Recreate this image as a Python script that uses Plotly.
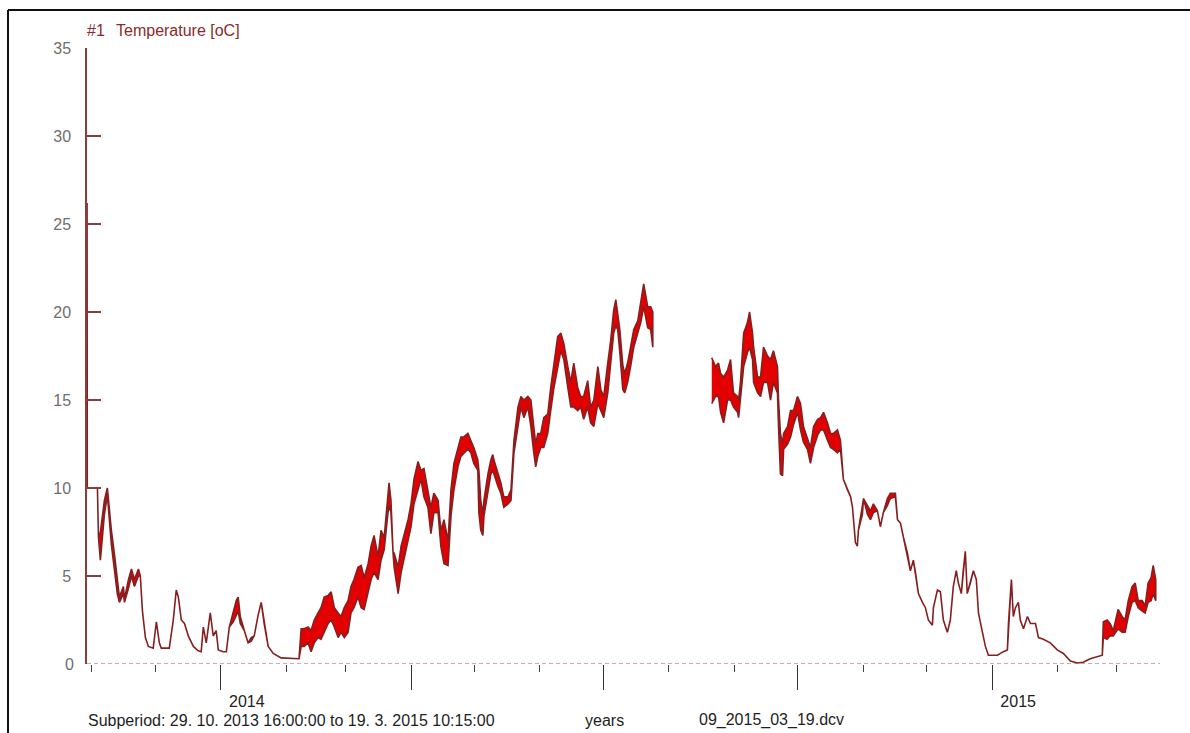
import pandas as pd
import plotly.graph_objects as go

# Logger #1 water temperature, daily low / high envelope.
# Day offsets are counted from 1 Jan 2014.
BASE_DATE = "2014-01-01"

day = [
    -63.3, -63.2, -58.4, -57.9, -57.0, -55.1, -53.7, -51.8, -50.4, -49.0,
    -48.0, -46.1, -45.6, -43.7, -42.3, -40.9, -39.0, -38.1, -37.1, -35.7,
    -34.3, -32.0, -30.5, -29.1, -28.2, -24.4, -22.5, -21.1, -20.1, -18.7,
    -17.2, -15.4, -13.0, -10.7, -9.3, -8.3, -6.9, -5.0, -3.6, -2.2,
    -1.2, 1.1, 2.6, 4.0, 5.9, 7.3, 8.2, 9.2, 11.1, 12.9,
    14.4, 15.8, 17.7, 19.1, 20.5, 22.4, 24.8, 27.1, 28.5, 37.0,
    38.0, 39.4, 41.3, 42.7, 44.2, 46.0, 47.4, 48.9, 50.8, 52.2,
    53.7, 55.5, 56.9, 58.4, 60.2, 61.6, 63.0, 64.9, 66.4, 67.8,
    69.7, 71.1, 72.5, 74.4, 75.8, 77.3, 79.1, 79.6, 80.5, 81.5,
    82.0, 83.9, 85.3, 86.7, 88.6, 90.0, 91.4, 93.3, 94.7, 96.1,
    98.0, 99.4, 100.8, 102.8, 104.1, 105.6, 107.5, 108.9, 110.3, 112.2,
    113.6, 115.0, 116.9, 118.3, 119.7, 121.6, 122.1, 123.0, 124.0, 124.5,
    126.4, 127.8, 128.7, 129.2, 131.1, 132.5, 133.9, 135.9, 137.3, 138.7,
    140.6, 142.0, 143.4, 145.3, 146.7, 148.1, 149.0, 150.0, 151.4, 152.8,
    154.7, 156.1, 157.5, 159.4, 160.9, 162.3, 164.2, 165.6, 167.0, 168.9,
    170.3, 171.7, 173.6, 175.0, 176.5, 178.4, 179.8, 181.2, 183.1, 184.5,
    185.9, 186.9, 187.8, 188.8, 190.2, 191.1, 192.5, 193.9, 195.4, 197.3,
    198.7, 200.1, 202.0, 203.4, 204.4,
    232.3, 234.1, 235.5, 236.5, 237.9, 239.8, 241.2, 242.6, 244.5, 245.0,
    245.9, 247.4, 249.2, 250.2, 251.6, 252.1, 254.0, 255.4, 256.8, 258.7,
    260.1, 261.5, 263.4, 263.9, 264.8, 265.8, 266.3, 268.2, 269.6, 271.0,
    272.9, 274.3, 275.7, 277.6, 279.0, 280.5, 282.4, 283.8, 285.2, 287.1,
    288.5, 289.9, 291.8, 293.2, 294.6, 296.5, 298.0, 298.9, 299.4, 300.3,
    301.2, 301.7, 303.6, 304.1, 306.0, 307.4, 308.8, 310.7, 312.1, 313.5,
    315.4, 316.8, 319.2, 320.2, 321.6, 323.0, 324.9, 326.3, 327.7, 328.7,
    330.1, 332.0, 333.4, 334.8, 336.7, 337.2, 339.1, 340.5, 341.9, 343.8,
    345.2, 346.6, 348.0, 349.0, 350.4, 351.3, 352.3, 353.2, 354.7, 356.1,
    357.5, 358.5, 360.4, 361.8, 363.2, 367.5, 370.3, 372.2, 372.7, 374.1,
    375.0, 376.0, 377.4, 378.3, 379.8, 381.7, 383.1, 385.5, 386.9, 389.2,
    392.5, 395.8, 398.7, 402.0, 405.3, 408.1, 411.4, 414.7, 417.1, 417.6,
    419.4, 420.8, 422.3, 424.6, 426.5, 427.9, 429.4, 431.2, 432.7, 434.1,
    436.0, 437.4, 438.8, 440.2, 441.2, 442.4,
]

t_low = [
    26.2, 10.0, 10.0, 7.2, 5.9, 8.5, 9.6, 6.8, 5.5, 4.0,
    3.5, 4.0, 3.5, 4.3, 5.0, 4.4, 5.0, 5.0, 3.0, 1.5,
    1.0, 0.9, 2.4, 1.2, 0.9, 0.9, 2.5, 4.2, 3.8, 2.5,
    2.3, 1.6, 1.0, 0.75, 0.7, 2.1, 1.2, 2.9, 1.6, 1.9,
    0.8, 0.7, 0.7, 2.1, 2.4, 2.8, 3.0, 2.3, 1.9, 1.2,
    1.3, 1.6, 2.8, 3.5, 2.3, 1.0, 0.6, 0.45, 0.35, 0.3,
    1.0, 1.0, 1.2, 0.7, 1.2, 1.5, 1.4, 1.8, 2.3, 2.5,
    2.1, 1.5, 1.8, 1.5, 1.8, 2.9, 3.2, 3.8, 3.2, 3.1,
    4.0, 4.8, 5.2, 4.8, 5.9, 6.5, 8.6, 9.0, 8.6, 6.3,
    5.5, 4.0, 5.2, 5.9, 7.0, 7.8, 9.1, 9.9, 10.5, 9.5,
    8.9, 7.4, 8.6, 8.6, 6.7, 5.7, 5.6, 8.4, 9.9, 11.2,
    11.8, 12.0, 12.2, 12.0, 11.4, 11.0, 8.6, 7.6, 7.3, 8.4,
    9.7, 10.8, 11.0, 10.8, 10.1, 9.7, 8.9, 9.1, 9.3, 12.0,
    13.5, 14.6, 14.0, 14.6, 13.5, 12.0, 11.2, 11.8, 12.3, 12.3,
    13.1, 14.4, 15.6, 16.9, 17.8, 17.3, 15.7, 14.6, 14.6, 14.4,
    14.6, 13.9, 14.6, 13.7, 13.5, 14.8, 14.4, 14.0, 15.4, 17.1,
    18.8, 19.2, 19.0, 17.7, 15.6, 15.4, 16.0, 16.9, 18.0, 18.8,
    19.4, 20.3, 19.1, 19.0, 18.0,
    14.8, 15.2, 15.2, 14.3, 13.7, 15.0, 15.0, 14.6, 14.3, 14.0,
    15.0, 16.9, 17.7, 18.0, 17.3, 16.0, 15.4, 15.2, 16.0, 16.0,
    15.0, 16.0, 15.4, 13.5, 10.8, 10.7, 12.2, 12.5, 12.9, 13.6,
    14.3, 13.3, 12.6, 12.2, 11.4, 12.3, 13.0, 13.3, 13.3, 12.7,
    12.3, 12.2, 12.0, 12.2, 10.5, 9.9, 9.5, 8.9, 8.2, 6.9,
    6.7, 7.6, 8.5, 9.4, 8.5, 8.2, 8.6, 8.7, 7.8, 8.6,
    9.0, 9.4, 9.5, 8.2, 8.0, 7.2, 6.3, 5.3, 5.9, 5.2,
    4.0, 3.5, 3.2, 2.5, 2.2, 3.2, 4.2, 4.1, 2.5, 1.8,
    2.5, 4.4, 5.3, 4.6, 4.0, 5.3, 6.4, 4.0, 4.6, 5.3,
    4.8, 2.9, 1.8, 1.0, 0.5, 0.5, 0.7, 0.8, 2.3, 4.8,
    2.7, 3.2, 3.5, 2.5, 2.0, 2.7, 2.3, 2.3, 1.5, 1.4,
    1.2, 0.8, 0.6, 0.17, 0.06, 0.1, 0.3, 0.4, 0.5, 1.5,
    1.4, 1.6, 1.6, 2.0, 1.8, 1.8, 2.7, 3.5, 3.6, 3.2,
    3.0, 2.9, 3.5, 3.6, 4.0, 3.6,
]

t_high = [
    26.2, 10.0, 10.0, 7.2, 7.5, 9.3, 10.0, 7.6, 6.3, 4.6,
    3.8, 4.4, 3.7, 4.8, 5.4, 4.8, 5.4, 5.0, 3.0, 1.5,
    1.0, 0.9, 2.4, 1.2, 0.9, 0.9, 2.5, 4.2, 3.8, 2.5,
    2.3, 1.6, 1.0, 0.75, 0.7, 2.1, 1.2, 2.9, 1.6, 1.9,
    0.8, 0.7, 0.7, 2.1, 2.9, 3.6, 3.8, 2.7, 1.9, 1.2,
    1.5, 1.6, 2.8, 3.5, 2.3, 1.0, 0.6, 0.45, 0.35, 0.3,
    2.0, 2.0, 2.1, 1.9, 2.5, 2.9, 3.2, 3.8, 3.9, 4.1,
    3.2, 2.9, 2.7, 3.2, 3.6, 4.4, 4.8, 5.5, 5.6, 4.9,
    5.7, 6.7, 7.3, 6.1, 7.6, 7.2, 9.9, 10.3, 9.3, 6.3,
    6.3, 5.5, 6.7, 7.4, 8.2, 9.1, 10.5, 11.5, 11.0, 11.1,
    9.7, 8.9, 9.7, 9.3, 7.6, 8.2, 7.0, 9.9, 11.4, 12.3,
    12.9, 12.9, 13.1, 12.7, 12.3, 11.6, 11.0, 9.3, 8.5, 9.3,
    10.8, 11.6, 11.9, 11.6, 10.8, 10.3, 9.5, 9.5, 9.9, 12.7,
    14.6, 15.2, 15.0, 15.2, 15.0, 13.3, 12.5, 13.1, 13.1, 14.0,
    14.2, 15.7, 16.9, 18.6, 18.8, 18.2, 16.9, 16.0, 17.1, 15.7,
    15.2, 15.2, 16.1, 14.6, 15.0, 16.9, 15.6, 15.2, 17.1, 18.4,
    20.1, 20.7, 19.9, 19.0, 17.0, 16.5, 17.1, 18.0, 19.0, 19.5,
    20.5, 21.6, 20.3, 20.3, 20.0,
    17.4, 16.9, 17.1, 16.5, 16.3, 16.7, 17.3, 15.4, 15.2, 15.0,
    16.0, 18.8, 19.4, 20.0, 18.8, 18.0, 16.3, 16.3, 18.0, 17.5,
    17.3, 17.8, 16.9, 15.0, 13.1, 12.5, 13.1, 13.5, 14.4, 14.4,
    15.2, 14.8, 13.5, 12.8, 12.3, 13.5, 13.9, 14.0, 14.3, 13.7,
    13.1, 13.1, 13.3, 12.7, 10.5, 9.9, 9.5, 8.9, 8.2, 6.9,
    6.7, 7.6, 9.0, 9.4, 9.0, 8.7, 9.1, 8.7, 7.8, 8.6,
    9.4, 9.7, 9.7, 8.2, 8.0, 7.2, 6.3, 5.3, 5.9, 5.2,
    4.0, 3.5, 3.2, 2.5, 2.2, 3.2, 4.2, 4.1, 2.5, 1.8,
    2.5, 4.4, 5.3, 4.6, 4.0, 5.3, 6.4, 4.0, 4.6, 5.3,
    4.8, 2.9, 1.8, 1.0, 0.5, 0.5, 0.7, 0.8, 2.3, 4.8,
    2.7, 3.2, 3.5, 2.5, 2.0, 2.7, 2.3, 2.3, 1.5, 1.4,
    1.2, 0.8, 0.6, 0.17, 0.06, 0.1, 0.3, 0.4, 0.5, 2.4,
    2.5, 2.3, 1.9, 3.1, 2.7, 2.5, 3.6, 4.4, 4.6, 3.6,
    3.6, 3.3, 4.6, 4.9, 5.6, 4.8,
]

y_ticks = [5, 10, 15, 20, 25, 30, 35]
year_ticks = ["2014-01-01", "2014-04-01", "2014-07-01", "2014-10-01", "2015-01-01"]
year_labels = ["2014", "", "", "", "2015"]

AXIS_RED = "#8a3b3b"
LINE_RED = "#862020"
FILL_RED = "#e30000"

base = pd.Timestamp(BASE_DATE)
t = [base + pd.Timedelta(days=d) for d in day]

# split the record where the logger was out of the water (gap > 10 days)
segments, start = [], 0
for i in range(1, len(day)):
    if day[i] - day[i - 1] > 10:
        segments.append((start, i))
        start = i
segments.append((start, len(day)))

fig = go.Figure()
for a, b in segments:
    xs = t[a:b] + t[a:b][::-1]
    ys = t_high[a:b] + t_low[a:b][::-1]
    fig.add_trace(go.Scatter(
        x=xs, y=ys, mode="lines", fill="toself",
        fillcolor=FILL_RED,
        line=dict(color=LINE_RED, width=1.6),
        hoverinfo="skip", showlegend=False,
    ))

x_start = "2013-10-29 16:00"
x_end = "2015-03-21 10:00"

fig.add_shape(type="line", xref="paper", yref="y", x0=0, x1=1, y0=0, y1=0,
              line=dict(color="#a65050", width=1, dash="4px,3px"), layer="above")

# outer frame (left and top edges)
W, H = 1190, 733
L, R, T, B = 87, 30, 48, 69
pw, ph = W - L - R, H - T - B
px = lambda x: (x - L) / pw
py = lambda y: (H - B - y) / ph
fig.add_shape(type="line", xref="paper", yref="paper", x0=px(8), x1=px(8), y0=py(10), y1=py(740),
              line=dict(color="#111", width=2))
fig.add_shape(type="line", xref="paper", yref="paper", x0=px(8), x1=px(1200), y0=py(10), y1=py(10),
              line=dict(color="#111", width=2))

font_main = "Liberation Sans, Arial, sans-serif"
FS = 16

fig.add_annotation(text="#1", xref="paper", yref="paper", x=px(85), y=py(31),
                   xanchor="left", yanchor="middle", showarrow=False,
                   font=dict(family=font_main, size=FS, color="#8b2a2a"))
fig.add_annotation(text="Temperature [oC]", xref="paper", yref="paper", x=px(114), y=py(31),
                   xanchor="left", yanchor="middle", showarrow=False,
                   font=dict(family=font_main, size=FS, color="#8b2a2a"))
fig.add_annotation(text="0", xref="paper", yref="y", x=0, y=0, xanchor="right",
                   xshift=-11, showarrow=False,
                   font=dict(family=font_main, size=FS, color="#6e6e6e"))

bottom_font = dict(family=font_main, size=FS, color="#1e1e1e")
for txt, xpix in [("Subperiod: 29. 10. 2013 16:00:00 to 19. 3. 2015 10:15:00", 86),
                  ("years", 583), ("09_2015_03_19.dcv", 697)]:
    fig.add_annotation(text=txt, xref="paper", yref="paper", x=px(xpix), y=py(720),
                       xanchor="left", yanchor="middle", showarrow=False, font=bottom_font)

fig.update_layout(
    width=W, height=H,
    margin=dict(l=L, r=R, t=T, b=B, pad=0),
    paper_bgcolor="white", plot_bgcolor="white",
    xaxis=dict(
        type="date", range=[x_start, x_end],
        showgrid=False, zeroline=False, showline=False,
        tickmode="array", tickvals=year_ticks, ticktext=year_labels,
        ticks="outside", ticklen=25, tickwidth=1, tickcolor="#333",
        ticklabelshift=26, ticklabelstandoff=-2,
        tickfont=dict(family=font_main, size=FS, color="#222"),
        minor=dict(ticks="outside", ticklen=7, tickwidth=1, tickcolor="#444",
                   dtick="M1", tick0="2013-11-01", showgrid=False),
    ),
    yaxis=dict(
        range=[0, 35], showgrid=False, zeroline=False,
        showline=True, linecolor=AXIS_RED, linewidth=1.5,
        tickmode="array", tickvals=y_ticks,
        ticks="inside", ticklen=14, tickwidth=1.5, tickcolor=AXIS_RED,
        ticklabelstandoff=11,
        tickfont=dict(family=font_main, size=FS, color="#6e6e6e"),
    ),
)

fig.write_html("out.html")
